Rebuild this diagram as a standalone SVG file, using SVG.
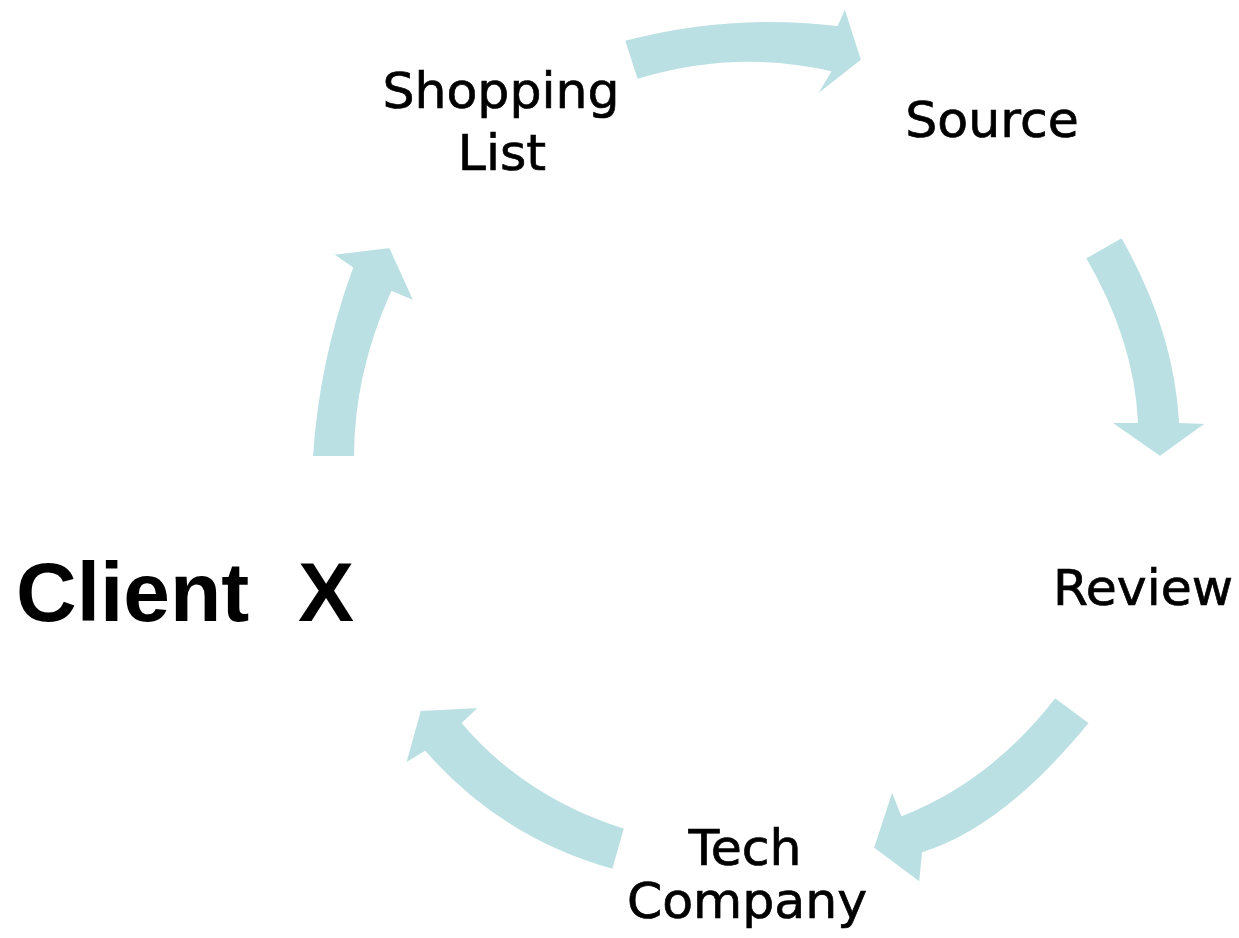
<svg xmlns="http://www.w3.org/2000/svg" width="1239" height="938" viewBox="0 0 1239 938">
<style>
.arr{fill:#bbe0e3;stroke:#ffffff;stroke-width:2;stroke-linejoin:miter}
.lbl{font-family:"DejaVu Sans",Verdana,sans-serif;font-size:50.5px;fill:#000;stroke:#000;stroke-width:0.7;text-anchor:middle}
.big{font-family:"Liberation Sans",Arial,sans-serif;font-weight:bold;font-size:84px;fill:#000}
</style>
<rect width="1239" height="938" fill="#ffffff"/>
<g id="connectors">
<path class="arr" d="M624,40 Q730,12 837,25 L845,7 L862,60 L815,97 L830,72 Q735,50 637,80 Z"/>
<path class="arr" d="M1122,237 Q1175,330 1180,422 L1207,423 L1160,457 L1110,422 L1137,422 Q1133,340 1085,258 Z"/>
<path class="arr" d="M1090,723 Q1004,828 923,853 L920,883 L873,848 L892,790 L902,815 Q991,780 1055,697 Z"/>
<path class="arr" d="M613,870 Q501,839 425,752 L405,764 L420,710 L480,707 L463,723 Q526,797 625,828 Z"/>
<path class="arr" d="M312,457 Q318,361 352,268 L332,254 L390,247 L415,302 L392,292 Q355,374 355,457 Z"/>
</g>
<g id="node-shopping-list">
<text class="lbl" x="501" y="108">Shopping</text>
<text class="lbl" x="502" y="170">List</text>
</g>
<g id="node-source">
<text class="lbl" x="992" y="137">Source</text>
</g>
<g id="node-review">
<text class="lbl" x="1143" y="605">Review</text>
</g>
<g id="node-tech-company">
<text class="lbl" x="745" y="865">Tech</text>
<text class="lbl" x="747" y="918">Company</text>
</g>
<g id="node-client-x">
<text class="big" x="16" y="621">Client<tspan x="298">X</tspan></text>
</g>
</svg>
